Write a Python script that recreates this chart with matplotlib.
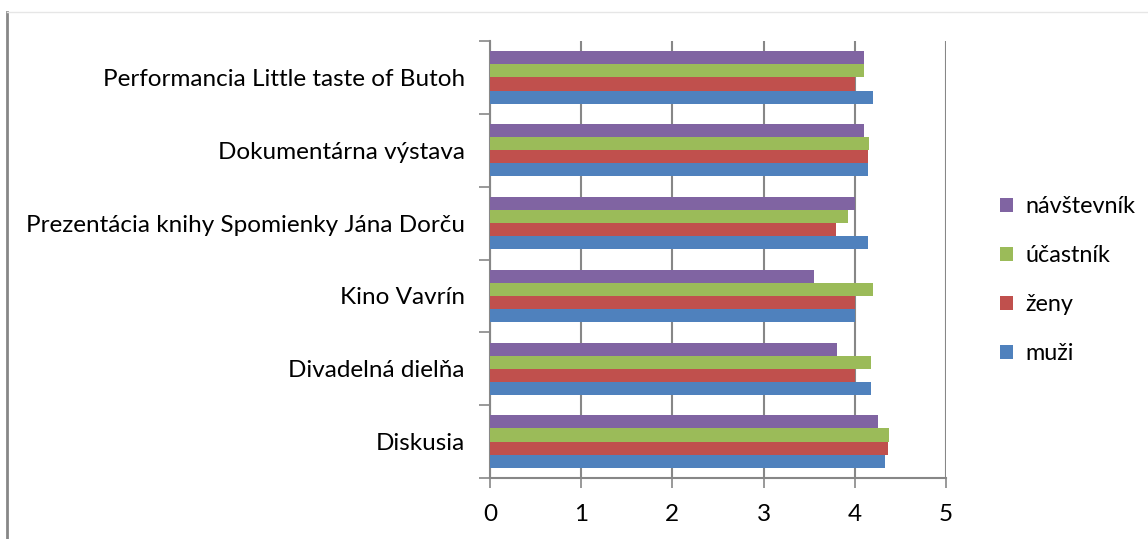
import numpy as np
import matplotlib.pyplot as plt
from matplotlib.lines import Line2D

plt.rcParams['font.family'] = ['Lato', 'DejaVu Sans']

categories = ['Diskusia', 'Divadelná dielňa', 'Kino Vavrín',
              'Prezentácia knihy Spomienky Jána Dorču', 'Dokumentárna výstava',
              'Performancia Little taste of Butoh']
series = ['muži', 'ženy', 'účastník', 'návštevník']
muzi = [4.33, 4.18, 4.0, 4.14, 4.14, 4.2]
zeny = [4.36, 4.0, 4.0, 3.79, 4.14, 4.0]
ucastnik = [4.38, 4.18, 4.2, 3.92, 4.16, 4.1]
navstevnik = [4.25, 3.81, 3.55, 4.0, 4.1, 4.1]
colors = ['#4F81BD', '#C0504D', '#9BBB59', '#8064A2']

fs = 17.5
fig = plt.figure(figsize=(11.48, 5.39), dpi=100)
ax = fig.add_axes([490 / 1148, 1 - 478 / 539, 456 / 1148, 437 / 539])

h = 0.18
y = np.arange(len(categories))
handles = []
for i, (vals, name, c) in enumerate(zip([muzi, zeny, ucastnik, navstevnik], series, colors)):
    b = ax.barh(y + (i - 1.5) * h, vals, height=h, color=c, label=name, zorder=3)
    handles.append(b)

ax.set_xlim(0, 5)
ax.set_ylim(-0.5, len(categories) - 0.5)
ax.set_xticks(range(6))
ax.set_yticks(y)
ax.set_yticklabels(categories)
ax.set_yticks(np.arange(-0.5, len(categories), 1), minor=True)
ax.tick_params(axis='y', which='major', length=0, pad=18, labelsize=fs)
ax.tick_params(axis='y', which='minor', length=8, width=1.2, color='#878787', direction='out')
ax.tick_params(axis='x', length=7, width=1.2, color='#878787', direction='out', pad=12, labelsize=fs)
ax.grid(axis='x', color='#878787', linewidth=1.5, zorder=0)
for s in ['top', 'right']:
    ax.spines[s].set_visible(False)
for s in ['left', 'bottom']:
    ax.spines[s].set_color('#878787')
    ax.spines[s].set_linewidth(1.5)

ax.legend(handles[::-1], series[::-1], loc='center left', bbox_to_anchor=(1.072, 0.453),
          frameon=False, fontsize=16.8, handlelength=0.58, handleheight=0.58,
          labelspacing=1.2, handletextpad=0.5)

fig.add_artist(Line2D([7 / 1148, 7 / 1148], [0, 1 - 12 / 539], color='#878787', linewidth=2))
fig.add_artist(Line2D([7 / 1148, 1], [1 - 12 / 539, 1 - 12 / 539], color='#e6e6e6', linewidth=1))

fig.savefig('out.png', dpi=100)
